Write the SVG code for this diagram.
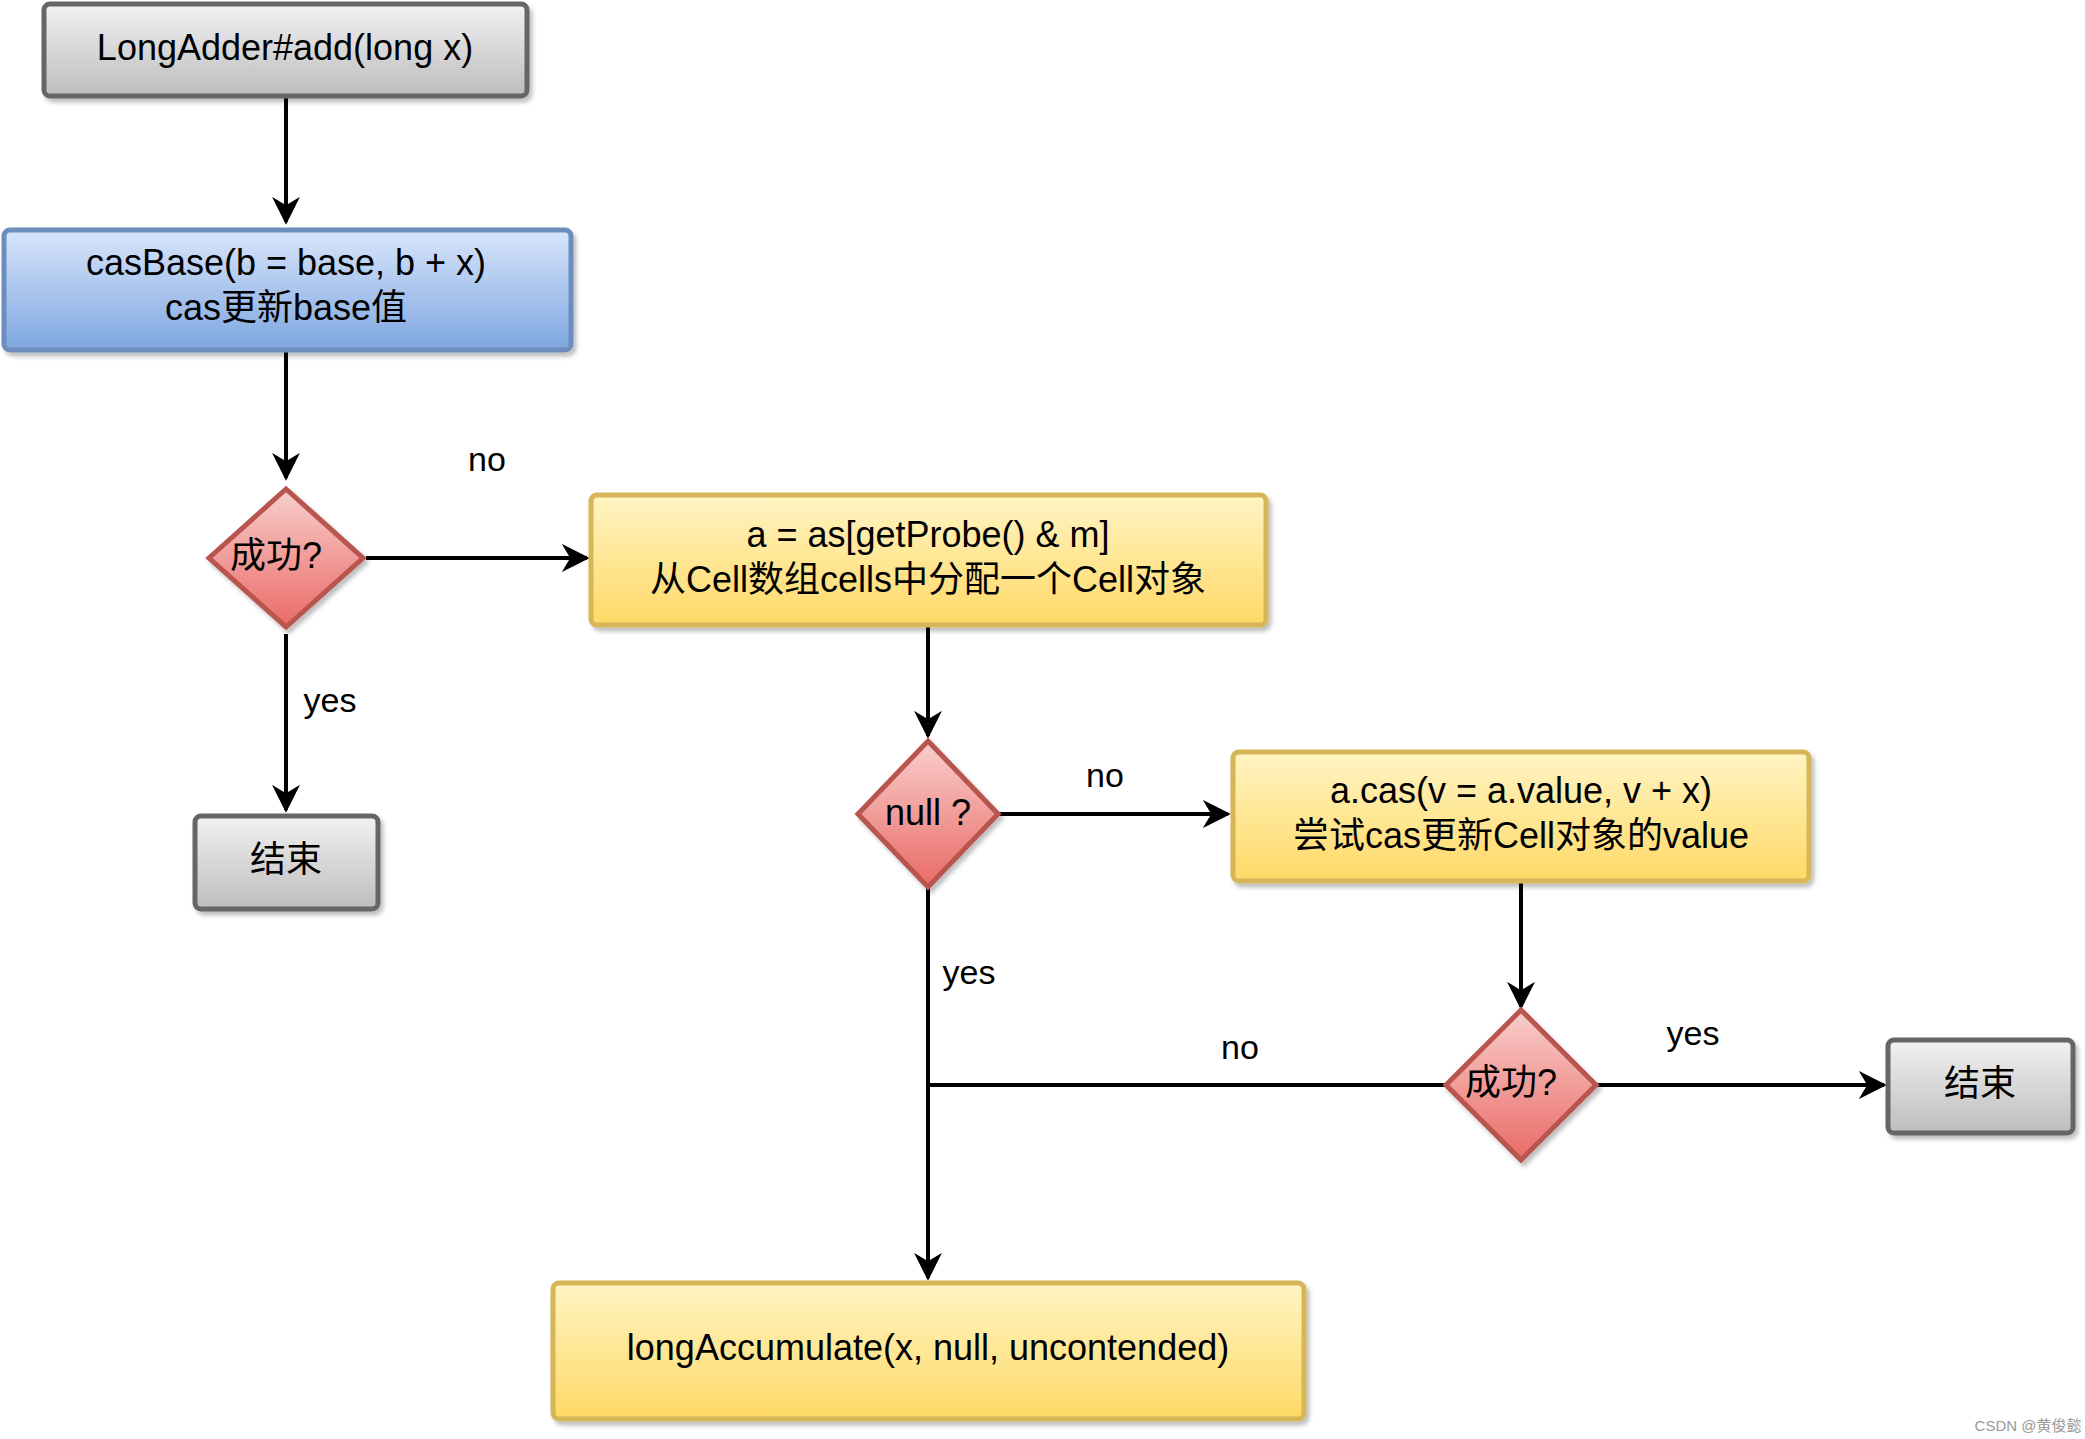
<svg xmlns="http://www.w3.org/2000/svg" width="2085" height="1439" viewBox="0 0 2085 1439">
<defs>
<linearGradient id="gGray" x1="0" y1="0" x2="0" y2="1"><stop offset="0" stop-color="#f2f2f2"/><stop offset="1" stop-color="#bdbdbd"/></linearGradient>
<linearGradient id="gBlue" x1="0" y1="0" x2="0" y2="1"><stop offset="0" stop-color="#d8e6fb"/><stop offset="1" stop-color="#7ea6e0"/></linearGradient>
<linearGradient id="gYel" x1="0" y1="0" x2="0" y2="1"><stop offset="0" stop-color="#fff4c3"/><stop offset="1" stop-color="#ffd966"/></linearGradient>
<linearGradient id="gRed" x1="0" y1="0" x2="0" y2="1"><stop offset="0" stop-color="#f8cecc"/><stop offset="1" stop-color="#ea6b66"/></linearGradient>
<filter id="sh" x="-10%" y="-10%" width="130%" height="140%"><feDropShadow dx="3" dy="4" stdDeviation="2" flood-color="#000" flood-opacity="0.25"/></filter>
<marker id="arr" viewBox="0 0 10 10" refX="9" refY="5" markerWidth="7" markerHeight="7" orient="auto"><path d="M0,0 L10,5 L0,10 L3,5 z" fill="#000"/></marker>
</defs>
<style>
text{font-family:"Liberation Sans","Noto Sans CJK SC",sans-serif;font-size:36px;fill:#000;text-anchor:middle;dominant-baseline:middle}
.box{stroke-width:5;filter:url(#sh)}
.gray{fill:url(#gGray);stroke:#666}
.blue{fill:url(#gBlue);stroke:#6c8ebf}
.yel{fill:url(#gYel);stroke:#d6b656}
.red{fill:url(#gRed);stroke:#b85450}
.e{fill:none;stroke:#000;stroke-width:4}
.lbl{font-size:34px}
</style>
<rect width="2085" height="1439" fill="#fff"/>
<g id="edges">
<path class="e" d="M286,96 L286,222" marker-end="url(#arr)"/>
<path class="e" d="M286,350 L286,478" marker-end="url(#arr)"/>
<path class="e" d="M366,558 L587,558" marker-end="url(#arr)"/>
<path class="e" d="M286,634 L286,810" marker-end="url(#arr)"/>
<path class="e" d="M928,625 L928,736" marker-end="url(#arr)"/>
<path class="e" d="M998,814 L1228,814" marker-end="url(#arr)"/>
<path class="e" d="M928,888 L928,1278" marker-end="url(#arr)"/>
<path class="e" d="M1521,881 L1521,1007" marker-end="url(#arr)"/>
<path class="e" d="M1446,1085 L928,1085"/>
<path class="e" d="M1596,1085 L1884,1085" marker-end="url(#arr)"/>
<text class="lbl" x="487" y="462">no</text>
<text class="lbl" x="330" y="703">yes</text>
<text class="lbl" x="1105" y="778">no</text>
<text class="lbl" x="969" y="975">yes</text>
<text class="lbl" x="1240" y="1050">no</text>
<text class="lbl" x="1693" y="1036">yes</text>
</g>
<g id="n1"><rect class="box gray" x="44" y="4" width="483" height="92" rx="6"/><text x="285" y="50">LongAdder#add(long x)</text></g>
<g id="n2"><rect class="box blue" x="4" y="230" width="567" height="120" rx="6"/><text x="286" y="265">casBase(b = base, b + x)</text><text x="286" y="310">cas更新base值</text></g>
<g id="n3"><polygon class="box red" points="286,489 363,558 286,627 209,558"/><text x="276" y="558">成功?</text></g>
<g id="n4"><rect class="box gray" x="195" y="816" width="183" height="93" rx="6"/><text x="286" y="862">结束</text></g>
<g id="n5"><rect class="box yel" x="591" y="495" width="675" height="130" rx="6"/><text x="928" y="537">a = as[getProbe() &amp; m]</text><text x="928" y="582">从Cell数组cells中分配一个Cell对象</text></g>
<g id="n6"><polygon class="box red" points="928,741 998,814 928,887 858,814"/><text x="928" y="815">null ?</text></g>
<g id="n7"><rect class="box yel" x="1233" y="752" width="576" height="129" rx="6"/><text x="1521" y="793">a.cas(v = a.value, v + x)</text><text x="1521" y="838">尝试cas更新Cell对象的value</text></g>
<g id="n8"><polygon class="box red" points="1521,1010 1596,1085 1521,1160 1446,1085"/><text x="1511" y="1085">成功?</text></g>
<g id="n9"><rect class="box gray" x="1888" y="1040" width="185" height="93" rx="6"/><text x="1980" y="1086">结束</text></g>
<g id="n10"><rect class="box yel" x="553" y="1283" width="751" height="136" rx="6"/><text x="928" y="1350">longAccumulate(x, null, uncontended)</text></g>
<text x="2028" y="1427" style="font-size:15px;fill:#999">CSDN @黄俊懿</text>
</svg>
